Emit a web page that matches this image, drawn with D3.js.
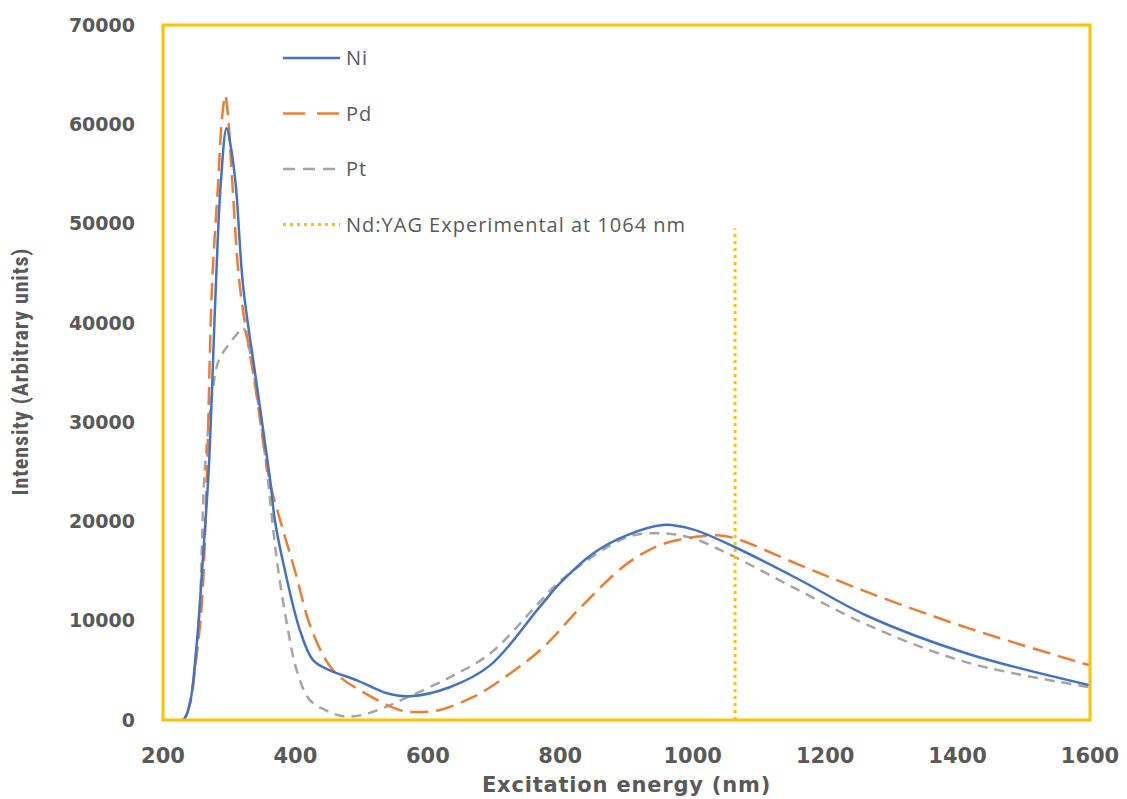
<!DOCTYPE html>
<html>
<head>
<meta charset="utf-8">
<script src="https://cdn.jsdelivr.net/npm/d3@7"></script>
<style>
  body { margin: 0; background: #fff; }
  svg { display: block; }
</style>
</head>
<body>
<svg id="chart" width="1127" height="799"></svg>
<script>
// values (nm, intensity)
var niX = [200, 230, 240, 250, 256, 262, 269, 280, 287, 296, 303, 310, 321, 340, 362, 369, 384, 407, 427, 452, 493, 538, 573, 633, 694, 769, 800, 850, 900, 955, 1000, 1064, 1162, 1263, 1414, 1600];
var niY = [0, 0, 1500, 7000, 12000, 18000, 25100, 44000, 53800, 59600, 57500, 53800, 43700, 34500, 24100, 20100, 15100, 9000, 6000, 5000, 4000, 2700, 2400, 3300, 5500, 11400, 13800, 16800, 18600, 19650, 19200, 17400, 14100, 10500, 6700, 3500];

var pdX = [200, 230, 240, 250, 259, 266, 274, 283, 289, 294, 298, 305, 316, 340, 361, 377, 399, 425, 457, 497, 558, 580, 618, 668, 694, 769, 833, 900, 950, 1000, 1037, 1064, 1162, 1263, 1414, 1600];
var pdY = [0, 0, 1500, 6000, 12000, 24100, 43700, 53800, 60500, 62900, 61000, 53800, 43700, 33300, 24100, 20100, 15100, 9000, 5000, 3000, 1000, 800, 1000, 2300, 3300, 7000, 11500, 15700, 17600, 18400, 18600, 18300, 15600, 12900, 9300, 5500];

var ptX = [200, 230, 240, 250, 256, 263, 275, 284, 298, 316, 321, 330, 346, 357, 365, 374, 389, 402, 422, 452, 475, 500, 532, 573, 633, 694, 769, 800, 900, 955, 1000, 1064, 1162, 1263, 1414, 1600];
var ptY = [0, 0, 1500, 6500, 12000, 25100, 33200, 36200, 37700, 39200, 39500, 37500, 30800, 25100, 20100, 15100, 9000, 5000, 2000, 800, 350, 500, 1200, 2400, 4300, 6700, 11900, 14000, 18400, 18800, 18300, 16400, 13000, 9600, 5800, 3300];

var yagX = [1064, 1064];
var yagY = [0, 49500];

var xTicks = [200, 400, 600, 800, 1000, 1200, 1400, 1600];
var yTicks = [0, 10000, 20000, 30000, 40000, 50000, 60000, 70000];

var seriesNames = ['Ni', 'Pd', 'Pt', 'Nd:YAG Experimental at 1064 nm'];
var seriesColors = ['#4472C4', '#ED7D31', '#A5A5A5', '#FFC000'];
var seriesDash = [null, '18,8', '10,7', '3,4'];

var margin = {top: 25, right: 37, bottom: 79, left: 163};
var width = 1127 - margin.left - margin.right;
var height = 799 - margin.top - margin.bottom;

var svg = d3.select('#chart');
var g = svg.append('g').attr('transform', 'translate(' + margin.left + ',' + margin.top + ')');

var x = d3.scaleLinear().domain([200, 1600]).range([0, width]);
var y = d3.scaleLinear().domain([0, 70000]).range([height, 0]);

svg.append('defs').append('clipPath').attr('id', 'plotClip')
    .append('rect').attr('width', width).attr('height', height);

// tick labels
g.selectAll('.ylab').data(yTicks).enter().append('text')
    .attr('x', -28)
    .attr('y', function(d) { return y(d); })
    .attr('dy', '0.35em')
    .attr('text-anchor', 'end')
    .style('font-family', 'DejaVu Sans, Verdana, sans-serif')
    .style('font-weight', 'bold')
    .style('font-size', '19px')
    .style('fill', '#595959')
    .text(function(d) { return d; });

g.selectAll('.xlab').data(xTicks).enter().append('text')
    .attr('x', function(d) { return x(d); })
    .attr('y', height + 43)
    .attr('text-anchor', 'middle')
    .style('font-family', 'DejaVu Sans, Verdana, sans-serif')
    .style('font-weight', 'bold')
    .style('font-size', '21px')
    .style('fill', '#595959')
    .text(function(d) { return d; });

// axis titles
g.append('text')
    .attr('x', width / 2)
    .attr('y', height + 72)
    .attr('text-anchor', 'middle')
    .style('font-family', 'DejaVu Sans, Verdana, sans-serif')
    .style('font-weight', 'bold')
    .style('font-size', '21px')
    .style('letter-spacing', '0.8px')
    .style('fill', '#595959')
    .text('Excitation energy (nm)');

g.append('text')
    .attr('transform', 'translate(' + (-135) + ',' + (height / 2 - 1) + ') rotate(-90)')
    .attr('text-anchor', 'middle')
    .style('font-family', 'Liberation Sans Narrow, Roboto Condensed, Liberation Sans, sans-serif')
    .style('font-weight', 'bold')
    .style('font-size', '22px')
    .style('letter-spacing', '0.9px')
    .style('fill', '#595959')
    .text('Intensity (Arbitrary units)');

// curves
var line = d3.line()
    .x(function(d) { return x(d[0]); })
    .y(function(d) { return y(d[1]); })
    .curve(d3.curveCatmullRom.alpha(0.5));

var plot = g.append('g').attr('clip-path', 'url(#plotClip)');

var allX = [niX, pdX, ptX];
var allY = [niY, pdY, ptY];

// draw back to front: Pt, Pd, Ni
[2, 1, 0].forEach(function(i) {
    var pts = d3.zip(allX[i], allY[i]);
    plot.append('path')
        .attr('d', line(pts))
        .style('fill', 'none')
        .style('stroke', seriesColors[i])
        .style('stroke-width', 2.5)
        .style('stroke-dasharray', seriesDash[i]);
});

plot.append('path')
    .attr('d', d3.line()
        .x(function(d) { return x(d[0]); })
        .y(function(d) { return y(d[1]); })(d3.zip(yagX, yagY)))
    .style('fill', 'none')
    .style('stroke', seriesColors[3])
    .style('stroke-width', 3)
    .style('stroke-dasharray', seriesDash[3]);

// plot border
g.append('rect')
    .attr('width', width)
    .attr('height', height)
    .style('fill', 'none')
    .style('stroke', '#FFC000')
    .style('stroke-width', 3);

// legend
var legend = g.append('g').attr('transform', 'translate(120,33)');
seriesNames.forEach(function(name, i) {
    var row = legend.append('g').attr('transform', 'translate(0,' + (i * 55.5) + ')');
    row.append('line')
        .attr('x1', 0).attr('x2', 57)
        .style('stroke', seriesColors[i])
        .style('stroke-width', i === 3 ? 3 : 2.5)
        .style('stroke-dasharray', i === 1 ? '22,12' : i === 2 ? '12,8' : seriesDash[i]);
    row.append('text')
        .attr('x', 63)
        .attr('dy', '0.35em')
        .style('font-family', 'Open Sans, sans-serif')
        .style('font-size', '20px')
        .style('letter-spacing', '1px')
        .style('fill', '#595959')
        .text(name);
});
</script>
</body>
</html>
